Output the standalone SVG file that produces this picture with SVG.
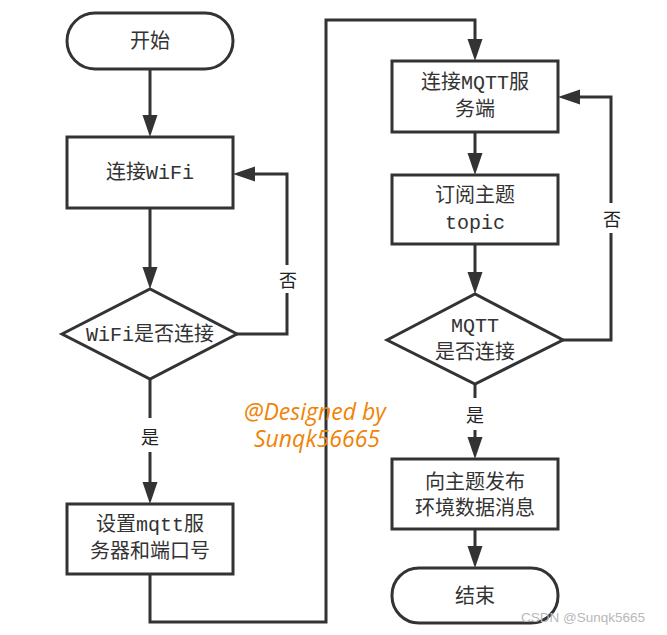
<svg xmlns="http://www.w3.org/2000/svg" width="667" height="635" viewBox="0 0 667 635">
<style>
.n{fill:#fff;stroke:#333;stroke-width:3}
.c{fill:none;stroke:#333;stroke-width:3}
.t{font-family:"Liberation Mono","Noto Sans CJK SC",monospace;font-size:20px;fill:#333;text-anchor:middle;dominant-baseline:central}
.l{font-family:"Noto Sans CJK SC",sans-serif;font-size:18px;fill:#222;text-anchor:middle;dominant-baseline:central}
.w{font-family:"Open Sans","Noto Sans",sans-serif;font-style:italic;font-size:23px;fill:#f08306}
.cs{font-family:"Liberation Sans",Arial,sans-serif;font-size:13.5px;fill:#b8b8b8}
</style>
<defs>
<marker id="a" markerUnits="userSpaceOnUse" markerWidth="24" markerHeight="18" refX="14" refY="8" orient="auto">
<path d="M0,0.5 L22,8 L0,15.5 Z" fill="#333"/>
</marker>
</defs>
<rect width="667" height="635" fill="#fff"/>
<g id="connectors">
<path class="c" d="M150,69 L150,129" marker-end="url(#a)"/>
<path class="c" d="M150,208 L150,281" marker-end="url(#a)"/>
<path class="c" d="M237,334 L287,334 L287,293"/>
<path class="c" d="M287,265 L287,174 L241,174" marker-end="url(#a)"/>
<path class="c" d="M150,379 L150,418"/>
<path class="c" d="M150,452 L150,496" marker-end="url(#a)"/>
<path class="c" d="M150,574 L150,622 L326,622 L326,20 L475,20 L475,53" marker-end="url(#a)"/>
<path class="c" d="M475,132 L475,167" marker-end="url(#a)"/>
<path class="c" d="M475,244 L475,286" marker-end="url(#a)"/>
<path class="c" d="M563,340 L611,340 L611,233"/>
<path class="c" d="M611,203 L611,97 L566,97" marker-end="url(#a)"/>
<path class="c" d="M475,384 L475,398"/>
<path class="c" d="M475,430 L475,451" marker-end="url(#a)"/>
<path class="c" d="M475,529 L475,560" marker-end="url(#a)"/>
<text class="l" x="288" y="279">否</text>
<text class="l" x="150" y="436">是</text>
<text class="l" x="612" y="218">否</text>
<text class="l" x="475" y="414">是</text>
</g>
<g id="start">
<rect class="n" x="67" y="13" width="166" height="56" rx="28"/>
<text class="t" x="150" y="42">开始</text>
</g>
<g id="wifi">
<rect class="n" x="67" y="137" width="166" height="71"/>
<text class="t" x="150" y="173">连接WiFi</text>
</g>
<g id="wifi-check">
<polygon class="n" points="62,334 150,289 237,334 150,379"/>
<text class="t" x="150" y="335">WiFi是否连接</text>
</g>
<g id="set-server">
<rect class="n" x="67" y="504" width="166" height="70"/>
<text class="t" x="150" y="525">设置mqtt服</text>
<text class="t" x="150" y="552">务器和端口号</text>
</g>
<g id="mqtt-connect">
<rect class="n" x="392" y="61" width="166" height="71"/>
<text class="t" x="475" y="83">连接MQTT服</text>
<text class="t" x="475" y="110">务端</text>
</g>
<g id="subscribe">
<rect class="n" x="392" y="175" width="166" height="69"/>
<text class="t" x="475" y="196">订阅主题</text>
<text class="t" x="475" y="223">topic</text>
</g>
<g id="mqtt-check">
<polygon class="n" points="387,340 475,294 563,340 475,384"/>
<text class="t" x="475" y="326">MQTT</text>
<text class="t" x="475" y="353">是否连接</text>
</g>
<g id="publish">
<rect class="n" x="392" y="459" width="166" height="70"/>
<text class="t" x="475" y="483">向主题发布</text>
<text class="t" x="475" y="509">环境数据消息</text>
</g>
<g id="end">
<rect class="n" x="392" y="568" width="166" height="55" rx="27"/>
<text class="t" x="475" y="597">结束</text>
</g>
<text class="w" x="244" y="420">@Designed by</text>
<text class="w" x="254" y="447">Sunqk56665</text>
<text class="cs" x="521" y="622">CSDN @Sunqk5665</text>
</svg>
